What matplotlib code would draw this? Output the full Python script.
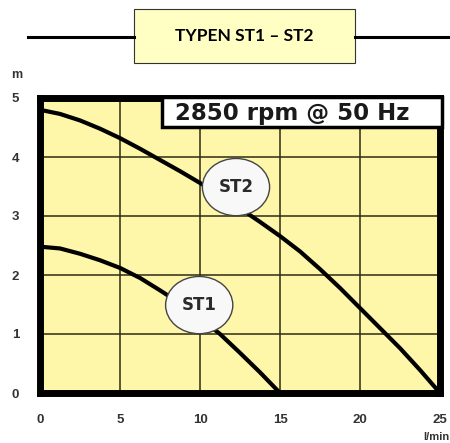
import matplotlib.pyplot as plt
from matplotlib.lines import Line2D
from matplotlib.patches import Rectangle, Ellipse

# pump curves (flow l/min -> head m)
st1_flow = [0, 1.25, 2.5, 3.75, 5, 6.25, 7.5, 8.75, 10, 11.25, 12.5, 13.75, 15]
st1_head = [2.48, 2.45, 2.36, 2.25, 2.12, 1.95, 1.74, 1.52, 1.27, 1.0, 0.68, 0.35, 0]
st2_flow = [0, 1.25, 2.5, 3.75, 5, 6.25, 7.5, 8.75, 10, 11.25, 12.5, 13.75, 15,
            16.25, 17.5, 18.75, 20, 21.25, 22.5, 23.75, 25]
st2_head = [4.8, 4.73, 4.62, 4.48, 4.32, 4.14, 3.95, 3.76, 3.56, 3.35, 3.13, 2.9, 2.66,
            2.4, 2.1, 1.78, 1.44, 1.1, 0.76, 0.39, 0]

labels = ["ST1", "ST2"]
label_pos = [(9.95, 1.49), (12.25, 3.49)]
x_ticks = [0, 5, 10, 15, 20, 25]
y_ticks = [0, 1, 2, 3, 4, 5]

plt.rcParams["font.family"] = ["Liberation Sans", "DejaVu Sans"]

fig = plt.figure(figsize=(4.5, 4.43), dpi=100)
ax = fig.add_axes([40 / 450, 50 / 443, 400 / 450, 295 / 443])
ax.set_facecolor("#fef6a8")

ax.plot(st1_flow, st1_head, color="black", lw=3, solid_capstyle="butt", zorder=3)
ax.plot(st2_flow, st2_head, color="black", lw=3, solid_capstyle="butt", zorder=3)

for lab, (lx, ly) in zip(labels, label_pos):
    ax.add_patch(Ellipse((lx, ly), 4.2, 0.97, fc="#f8f8f8", ec="#444444", lw=1, zorder=4))
    ax.text(lx, ly, lab, ha="center", va="center", fontsize=12, fontweight="bold",
            family=["DejaVu Sans"], color="#2a2a2a", zorder=5)

ax.set_xlim(0, 25)
ax.set_ylim(0, 5)
ax.set_xticks(x_ticks)
ax.set_yticks(y_ticks)
ax.grid(True, color="#2e2b14", lw=1.1)
ax.tick_params(length=0, labelsize=9.5, labelcolor="#333333", pad=15)
for t in ax.get_xticklabels() + ax.get_yticklabels():
    t.set_fontweight("bold")
for s in ax.spines.values():
    s.set_linewidth(5)
    s.set_zorder(6)

# speed box in the top right corner
ax.add_patch(Rectangle((0.305, 0.902), 0.7, 0.1, transform=ax.transAxes, fc="white",
                       ec="black", lw=2.5, zorder=7, clip_on=False))
ax.text(0.63, 0.946, "2850 rpm @ 50 Hz", transform=ax.transAxes, ha="center",
        va="center", fontsize=16.5, fontweight="bold", family=["DejaVu Sans"],
        color="#1a1a1a", zorder=8)

fig.text(17 / 450, 1 - 75 / 443, "m", ha="center", va="center", fontsize=9,
         fontweight="bold", color="#333333")
fig.text(436 / 450, 1 - 437 / 443, "l/min", ha="center", va="center", fontsize=8,
         fontweight="bold", color="#333333")

# title box with side rules
fig.add_artist(Line2D([28 / 450, 134 / 450], [1 - 37 / 443] * 2, color="black", lw=2.2))
fig.add_artist(Line2D([355 / 450, 1.0], [1 - 37 / 443] * 2, color="black", lw=2.2))
fig.add_artist(Rectangle((134 / 450, 1 - 63 / 443), 221 / 450, 54 / 443,
                         transform=fig.transFigure, fc="#ffffc4", ec="#333333", lw=0.8))
fig.text(244.5 / 450, 1 - 36 / 443, "TYPEN ST1 \u2013 ST2", ha="center", va="center",
         fontsize=12.5, fontweight="bold", family=["Lato", "DejaVu Sans"])

fig.savefig("out.png", dpi=100)
